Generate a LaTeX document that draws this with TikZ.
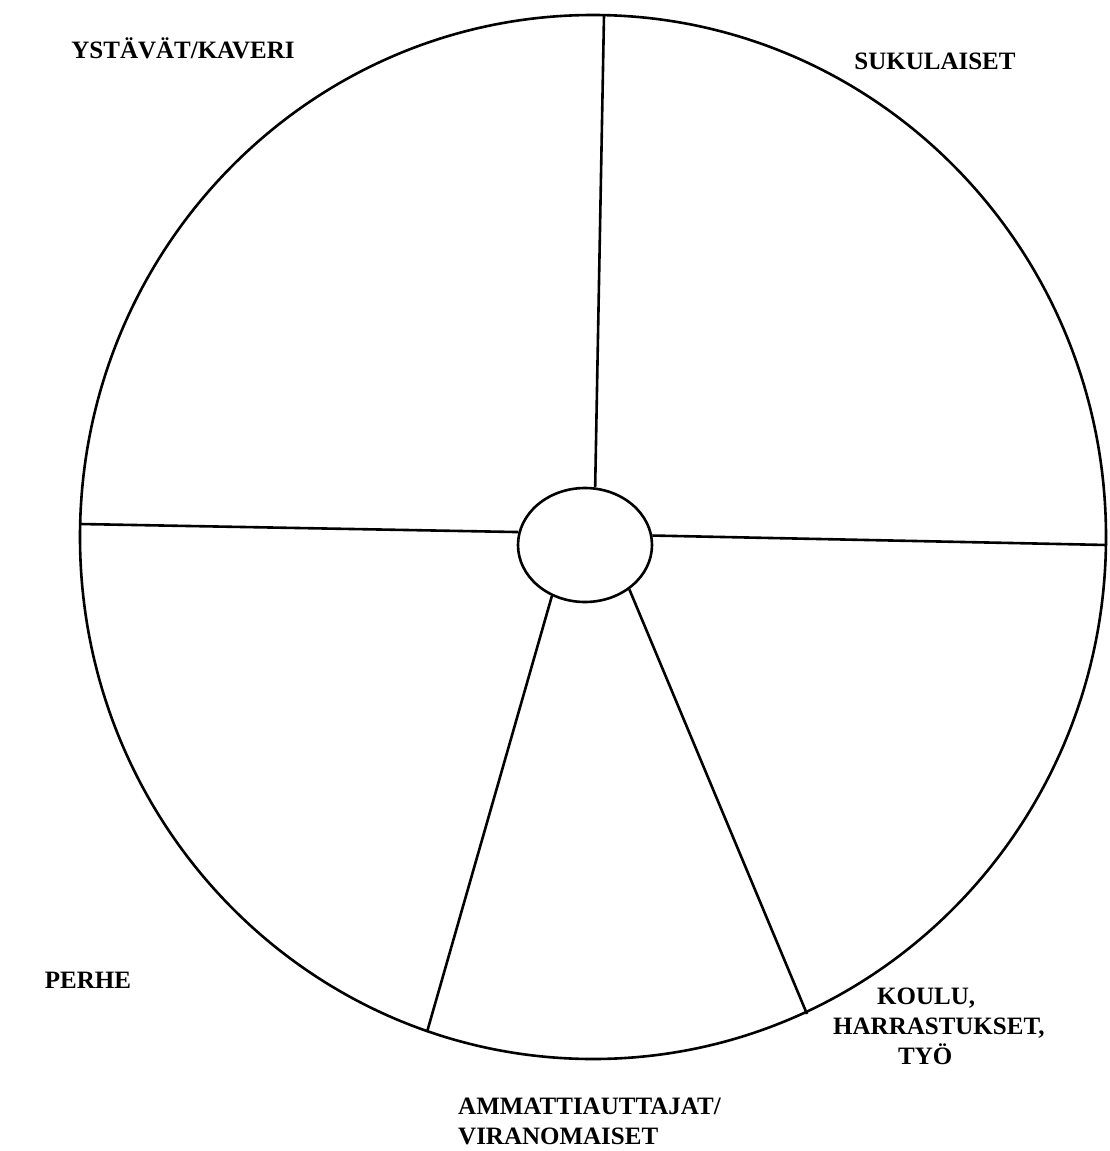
\documentclass[tikz,border=0pt]{standalone}
\usepackage{fontspec}
\setmainfont{Liberation Serif}
\usetikzlibrary{shapes.geometric,positioning}

\begin{document}
\begin{tikzpicture}[
  x=1pt, y=-1pt,
  ring/.style={draw, ellipse, line width=2.6pt, inner sep=0pt},
  spoke/.style={line width=2.6pt},
  lbl/.style={font=\fontsize{25}{30}\selectfont\bfseries, inner sep=0pt, align=center}
]
\useasboundingbox (0,0) rectangle (1109,1151);
% wheel and hub
\node[ring, minimum width=1026, minimum height=1044] (wheel) at (593,537) {};
\node[ring, minimum width=134, minimum height=114, fill=white] (hub) at (585,545) {};
% rim points of the spokes
\coordinate (rimN)  at (604,15);
\coordinate (rimW)  at (80,524);
\coordinate (rimE)  at (1107,545);
\coordinate (rimSW) at (427,1032);
\coordinate (rimSE) at (807,1014);
\draw[spoke] (hub.80)  -- (rimN);
\draw[spoke] (hub.169) -- (rimW);
\draw[spoke] (hub.8)   -- (rimE);
\draw[spoke] (hub.237) -- (rimSW);
\draw[spoke] (hub.315) -- (rimSE);
% sector labels
\node[lbl] (friends) at (183,48) {YSTÄVÄT/KAVERI};
\node[lbl] (kin)     at (935,61) {SUKULAISET};
\node[lbl] (family)  at (88,980) {PERHE};
\node[lbl, align=left, anchor=west] (school) at (833,1026)
  {\hspace*{44pt}KOULU,\\HARRASTUKSET,\\\hspace*{65pt}TYÖ};
\node[lbl, align=left, anchor=west] (officials) at (458,1121) {AMMATTIAUTTAJAT/\\VIRANOMAISET};
\end{tikzpicture}
\end{document}
